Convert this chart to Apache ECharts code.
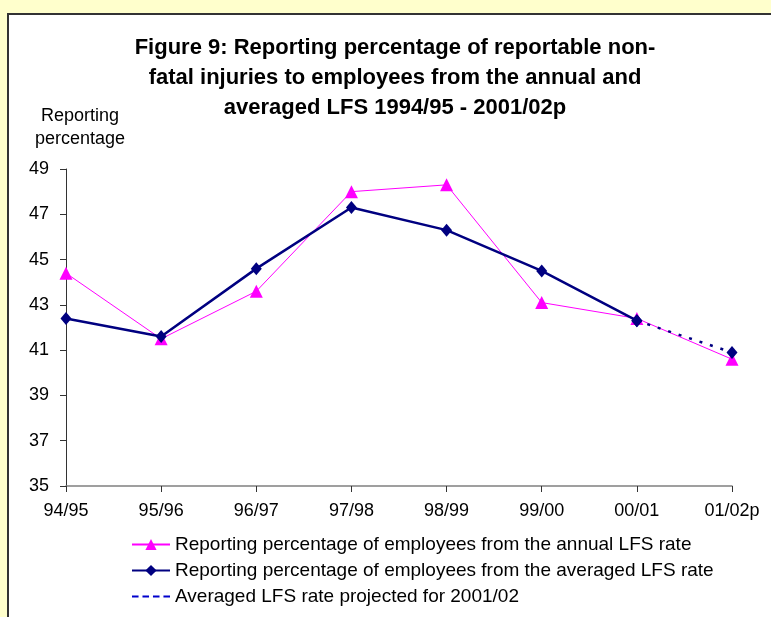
<!DOCTYPE html>
<html>
<head>
<meta charset="utf-8">
<script src="https://cdn.jsdelivr.net/npm/echarts@6/dist/echarts.min.js"></script>
<style>
  html, body { margin: 0; padding: 0; background: #FFFFCC; }
  #chart { width: 771px; height: 617px; }
</style>
</head>
<body>
<div id="chart"></div>
<script>
  // data
  var years = ['94/95', '95/96', '96/97', '97/98', '98/99', '99/00', '00/01', '01/02p'];
  var annualRate = [44.4, 41.5, 43.6, 48.0, 48.3, 43.1, 42.4, 40.6];
  var averagedRate = [42.4, 41.6, 44.6, 47.3, 46.3, 44.5, 42.3, null];
  var projectedRate = [null, null, null, null, null, null, 42.3, 40.9];
  var yTicks = { min: 35, max: 49, step: 2 };

  var names = [
    'Reporting percentage of employees from the annual LFS rate',
    'Reporting percentage of employees from the averaged LFS rate',
    'Averaged LFS rate projected for 2001/02'
  ];

  var font = 'Liberation Sans, Arial, sans-serif';
  var chart = echarts.init(document.getElementById('chart'));

  chart.setOption({
    backgroundColor: '#FFFFCC',
    animation: false,
    graphic: [{
      type: 'rect',
      z: -10,
      shape: { x: 8, y: 14, width: 800, height: 700 },
      style: { fill: '#ffffff', stroke: '#333333', lineWidth: 2 }
    }],
    title: [{
      text: 'Figure 9: Reporting percentage of reportable non-\nfatal injuries to employees from the annual and\naveraged LFS 1994/95 - 2001/02p',
      left: 395,
      top: 33,
      textAlign: 'center',
      padding: 0,
      textStyle: {
        fontFamily: font,
        fontSize: 22,
        fontWeight: 'bold',
        color: '#000',
        lineHeight: 30,
        align: 'center'
      }
    }, {
      text: 'Reporting\npercentage',
      left: 80,
      top: 105,
      textAlign: 'center',
      padding: 0,
      textStyle: {
        fontFamily: font,
        fontSize: 18,
        fontWeight: 'normal',
        color: '#000',
        lineHeight: 23,
        align: 'center'
      }
    }],
    grid: { left: 66, right: 39, top: 169, bottom: 131 },
    legend: {
      orient: 'vertical',
      left: 131,
      top: 535,
      itemWidth: 38,
      itemHeight: 14,
      itemGap: 7,
      padding: 0,
      selectedMode: false,
      textStyle: { fontFamily: font, fontSize: 19, color: '#000' },
      data: [
        { name: names[0] },
        { name: names[1] },
        {
          name: names[2],
          icon: 'path://M0,0h5v1.5h-5zM8,0h5v1.5h-5zM16,0h5v1.5h-5zM24,0h5v1.5h-5z',
          itemStyle: { color: '#0000CC' }
        }
      ]
    },
    xAxis: {
      type: 'category',
      data: years,
      boundaryGap: false,
      axisLine: { lineStyle: { color: '#808080', width: 1.5 } },
      axisTick: { alignWithLabel: true, length: 6, lineStyle: { color: '#333' } },
      axisLabel: { fontFamily: font, fontSize: 18, color: '#000', margin: 16 },
      splitLine: { show: false }
    },
    yAxis: {
      type: 'value',
      min: yTicks.min,
      max: yTicks.max,
      interval: yTicks.step,
      axisLine: { show: true, lineStyle: { color: '#333', width: 1 } },
      axisTick: { show: true, length: 6, lineStyle: { color: '#333' } },
      axisLabel: { fontFamily: font, fontSize: 18, color: '#000', margin: 17 },
      splitLine: { show: false }
    },
    series: [{
      name: names[0],
      type: 'line',
      data: annualRate,
      symbol: 'triangle',
      symbolSize: 13,
      color: '#FF00FF',
      lineStyle: { color: '#FF00FF', width: 1 },
      itemStyle: { color: '#FF00FF' },
      z: 2
    }, {
      name: names[1],
      type: 'line',
      data: averagedRate,
      symbol: 'diamond',
      symbolSize: [11, 13],
      color: '#000080',
      lineStyle: { color: '#000080', width: 2.5 },
      itemStyle: { color: '#000080' },
      z: 3
    }, {
      name: names[2],
      type: 'line',
      data: projectedRate,
      symbol: 'diamond',
      symbolSize: [11, 13],
      color: '#000080',
      lineStyle: { color: '#000080', width: 2.5, type: [3, 8] },
      itemStyle: { color: '#000080' },
      z: 3
    }]
  });
</script>
</body>
</html>
